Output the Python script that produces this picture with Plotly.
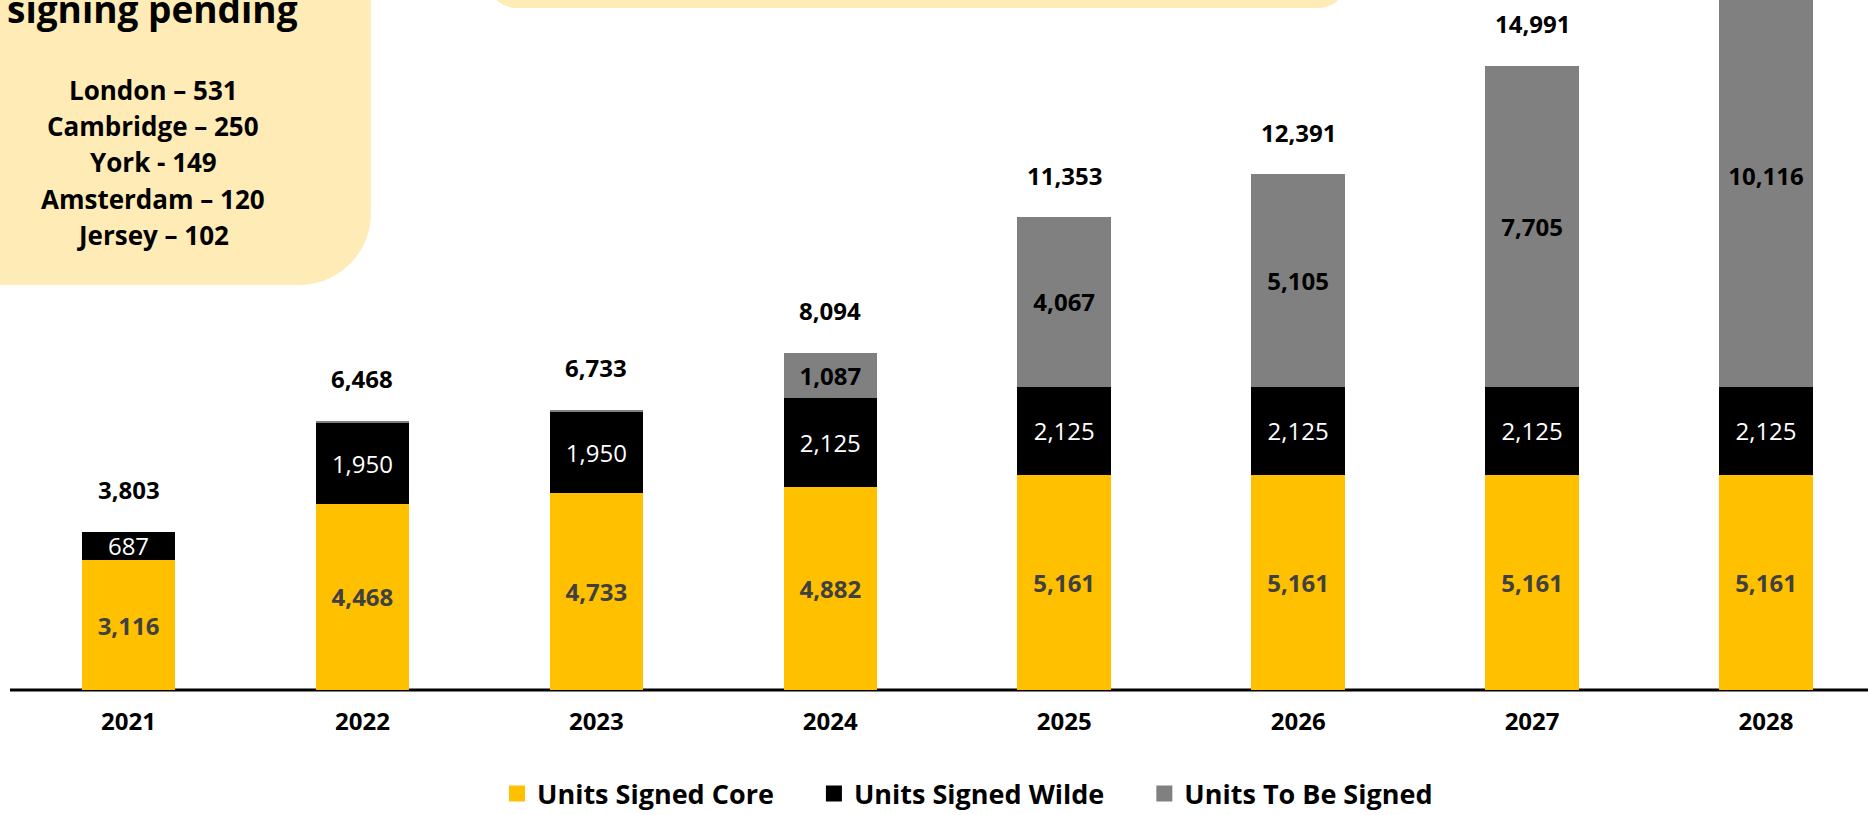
import plotly.graph_objects as go

# ---- data ----
years = ["2021", "2022", "2023", "2024", "2025", "2026", "2027", "2028"]
units_core = [3116, 4468, 4733, 4882, 5161, 5161, 5161, 5161]
units_wilde = [687, 1950, 1950, 2125, 2125, 2125, 2125, 2125]
units_tbs = [0, 50, 50, 1087, 4067, 5105, 7705, 10116]
series_names = ["Units Signed Core", "Units Signed Wilde", "Units To Be Signed"]
box_title = "signing pending"
box_lines = ["London – 531", "Cambridge – 250", "York - 149", "Amsterdam – 120", "Jersey – 102"]

# ---- layout geometry (pixels) ----
W, H = 1868, 815
PLOT_BOTTOM = 690          # pixel row of the zero line
Y_MAX = 16570
X_RANGE = [-0.5493, 7.436]
FONT = "Open Sans"

YELLOW = "#FFC000"
BLACK = "#000000"
GREY = "#808080"
BOX = "#FFEBB5"
NBSP = "\u00a0"


def px(x):
    return x / W


def py(y):
    return (PLOT_BOTTOM - y) / PLOT_BOTTOM


def lab(vals, minimum=500):
    return [f"{v:,}" if v >= minimum else "" for v in vals]


totals = [a + b + c for a, b, c in zip(units_core, units_wilde, units_tbs)]

fig = go.Figure()
bar_specs = [
    (units_core, YELLOW, dict(color="#404040", weight="bold")),
    (units_wilde, BLACK, dict(color="#FFFFFF", weight="normal")),
    (units_tbs, GREY, dict(color="#000000", weight="bold")),
]
for idx, (vals, col, tf) in enumerate(bar_specs):
    fig.add_trace(go.Bar(
        x=years, y=vals, name=series_names[idx], legendgroup=series_names[idx],
        showlegend=False, marker=dict(color=col, line=dict(width=0)),
        text=lab(vals), textposition="inside", insidetextanchor="middle",
        textfont=dict(family=FONT, size=24, **tf),
    ))

# legend entries (square swatches) linked to the bar series
for idx, (vals, col, tf) in enumerate(bar_specs):
    pad = NBSP * 5 if idx < len(bar_specs) - 1 else ""
    fig.add_trace(go.Scatter(
        x=[None], y=[None], mode="markers", name=series_names[idx] + pad,
        legendgroup=series_names[idx], showlegend=True,
        marker=dict(symbol="square", size=16, color=col),
    ))

annotations = []
for i, tot in enumerate(totals):
    if tot < Y_MAX:
        annotations.append(dict(
            x=i, y=tot, xref="x", yref="y", text=f"{tot:,}", showarrow=False,
            yshift=42, yanchor="middle", xanchor="center",
            font=dict(family=FONT, size=24, color="#000000", weight="bold"),
        ))

annotations.append(dict(
    x=px(152), y=py(8), xref="paper", yref="paper", text=box_title, showarrow=False,
    xanchor="center", yanchor="middle",
    font=dict(family=FONT, size=37, color="#000000", weight="bold"),
))
for i, line in enumerate(box_lines):
    annotations.append(dict(
        x=px(153), y=py(90 + i * 36.2), xref="paper", yref="paper", text=line,
        showarrow=False, xanchor="center", yanchor="middle",
        font=dict(family=FONT, size=26, color="#000000", weight="bold"),
    ))

k = 0.5523
# left info box with rounded bottom-right corner
L, R, T, B, r = -5, 371, -5, 285, 72
left_box = (f"M {px(L)},{py(T)} L {px(R)},{py(T)} L {px(R)},{py(B - r)} "
            f"C {px(R)},{py(B - r + k * r)} {px(R - r + k * r)},{py(B)} {px(R - r)},{py(B)} "
            f"L {px(L)},{py(B)} Z")
# top box with rounded bottom corners
L2, R2, T2, B2, r2 = 487, 1348, -40, 8, 30
top_box = (f"M {px(L2)},{py(T2)} L {px(R2)},{py(T2)} L {px(R2)},{py(B2 - r2)} "
           f"C {px(R2)},{py(B2 - r2 + k * r2)} {px(R2 - r2 + k * r2)},{py(B2)} {px(R2 - r2)},{py(B2)} "
           f"L {px(L2 + r2)},{py(B2)} "
           f"C {px(L2 + r2 - k * r2)},{py(B2)} {px(L2)},{py(B2 - r2 + k * r2)} {px(L2)},{py(B2 - r2)} Z")

shapes = [
    dict(type="path", path=left_box, xref="paper", yref="paper", fillcolor=BOX,
         line=dict(width=0), layer="below"),
    dict(type="path", path=top_box, xref="paper", yref="paper", fillcolor=BOX,
         line=dict(width=0), layer="below"),
    dict(type="line", xref="paper", yref="paper", x0=px(10), x1=1, y0=0, y1=0,
         line=dict(color="#000000", width=3), layer="below"),
]

fig.update_layout(
    width=W, height=H,
    margin=dict(l=0, r=0, t=0, b=H - PLOT_BOTTOM, autoexpand=False),
    barmode="stack", bargap=0.6,
    paper_bgcolor="#FFFFFF", plot_bgcolor="#FFFFFF",
    showlegend=True,
    legend=dict(orientation="h", x=px(497), xanchor="left", y=py(794), yanchor="middle",
                font=dict(family=FONT, size=27, color="#000000", weight="bold"),
                bgcolor="rgba(0,0,0,0)", traceorder="normal"),
    uniformtext=dict(minsize=24, mode="show"),
    annotations=annotations, shapes=shapes,
    xaxis=dict(type="category", range=X_RANGE, showgrid=False, zeroline=False, showline=False,
               ticks="", ticklabelstandoff=15,
               tickfont=dict(family=FONT, size=24, color="#000000", weight="bold"),
               fixedrange=True),
    yaxis=dict(range=[0, Y_MAX], visible=False, showgrid=False, zeroline=False, fixedrange=True),
)

fig.write_html("out.html")
